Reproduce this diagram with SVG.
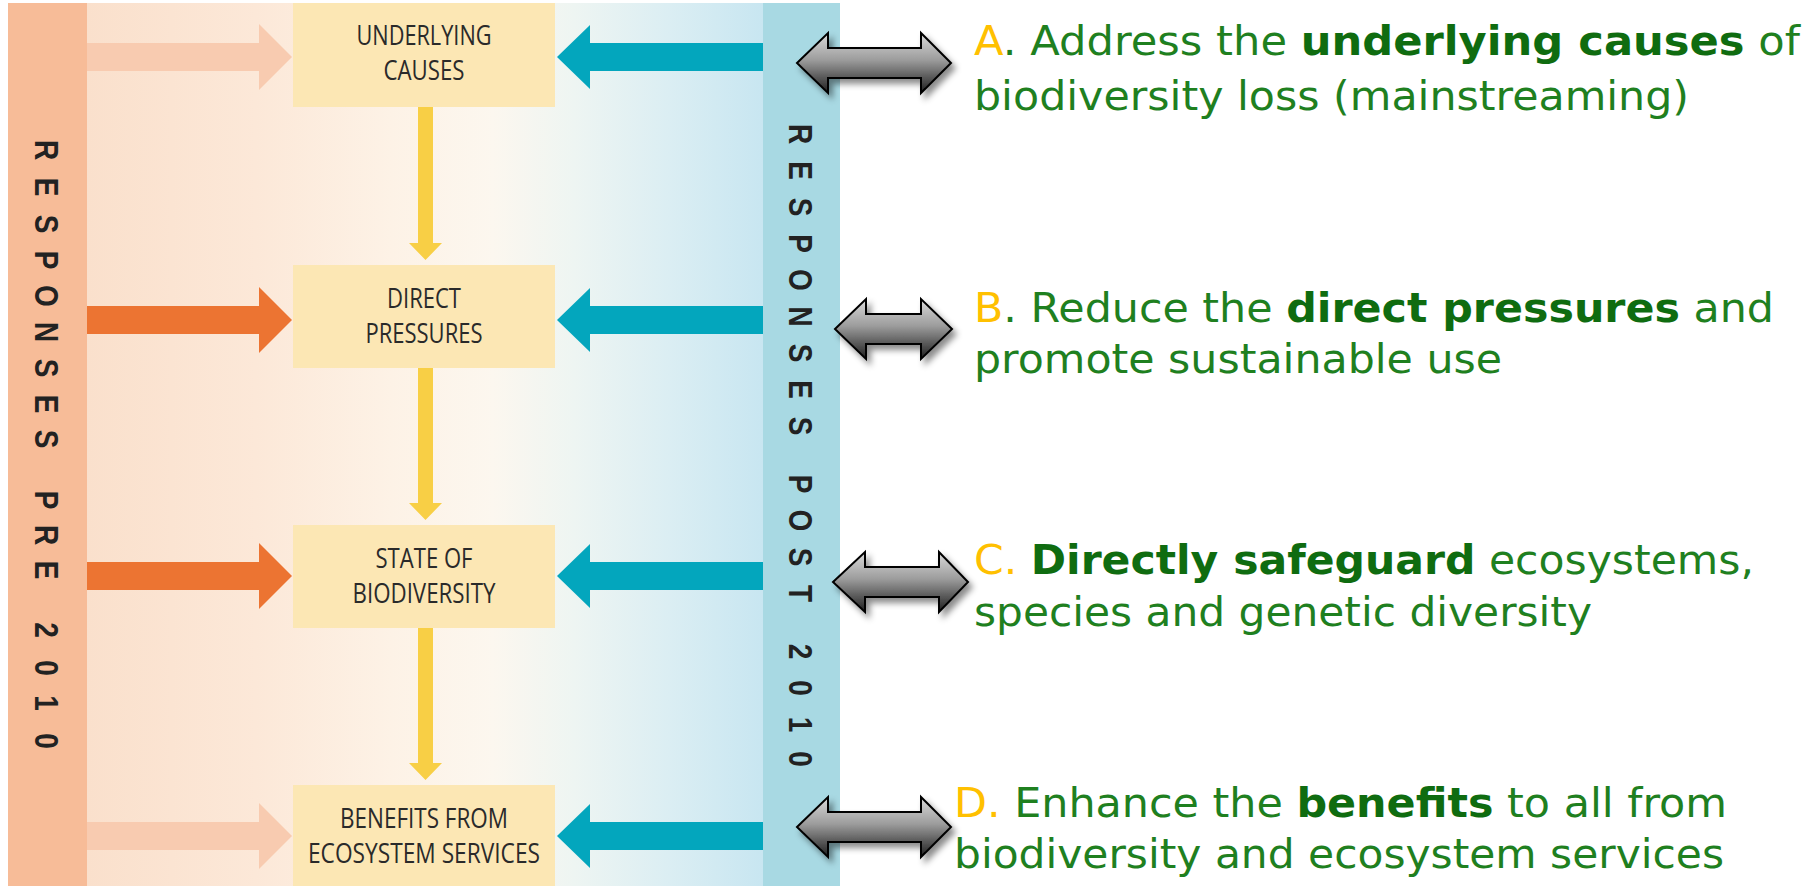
<svg xmlns="http://www.w3.org/2000/svg" width="1820" height="886" viewBox="0 0 1820 886">
<defs>
<linearGradient id="bg" x1="87" y1="0" x2="763" y2="0" gradientUnits="userSpaceOnUse">
<stop offset="0" stop-color="#FAE0CC"/>
<stop offset="0.25" stop-color="#FCE8D8"/>
<stop offset="0.45" stop-color="#FDF2E6"/>
<stop offset="0.6" stop-color="#FCF7EF"/>
<stop offset="0.72" stop-color="#EEF5F2"/>
<stop offset="0.86" stop-color="#DBEEF3"/>
<stop offset="1" stop-color="#C8E6F1"/>
</linearGradient>
<linearGradient id="gray" x1="0" y1="0" x2="0" y2="1">
<stop offset="0" stop-color="#DADADA"/>
<stop offset="0.45" stop-color="#9C9C9C"/>
<stop offset="1" stop-color="#1E1E1E"/>
</linearGradient>
<filter id="shadow" x="-20%" y="-30%" width="140%" height="170%">
<feDropShadow dx="4" dy="5" stdDeviation="3" flood-color="#000" flood-opacity="0.45"/>
</filter>
<style>
.box{fill:#FCE7B4}
.bt{font-family:"Open Sans","Liberation Sans",sans-serif;font-size:27px;fill:#2A2A2A;text-anchor:middle}
.vt{font-family:"Liberation Sans",Arial,sans-serif;font-weight:bold;font-size:28px;fill:#222;text-anchor:middle}
.yl{fill:#F8CF45}
.or{fill:#EC7432}
.orf{fill:#F8CBB0}
.tl{fill:#03A6BD}
.dbl{fill:url(#gray);stroke:#000;stroke-width:2;stroke-linejoin:miter;filter:url(#shadow)}
.rt{font-family:"DejaVu Sans",Verdana,sans-serif;font-size:40px;fill:#1F801F}
.rb{font-weight:bold;fill:#0F6C10}
.lt{fill:#FFC000}
</style>
</defs>

<rect x="0" y="0" width="1820" height="886" fill="#FFFFFF"/>
<rect x="87" y="3" width="676" height="883" fill="url(#bg)"/>

<g id="pre-strip">
<rect x="8" y="3" width="79" height="883" fill="#F7BC98"/>
<text class="vt" transform="matrix(0 1 -1.2 0 35 0)" x="150 187 224 260 296 332 368 404 439 470 500 535 570 600 630 668 703 741" y="0">RESPONSES PRE 2010</text>
</g>

<g id="post-strip">
<rect x="763" y="3" width="77" height="883" fill="#A8D9E3"/>
<text class="vt" transform="matrix(0 1 -1.2 0 789 0)" x="134 170.5 207 243.5 280 316.5 353 389.5 426 455 484 520.5 557 593.5 622 651.5 688 724.5 759" y="0">RESPONSES POST 2010</text>
</g>

<g id="connectors">
<path class="orf" d="M87,43 H259 V24 L292,57 L259,90 V71 H87 Z"/>
<path class="or" d="M87,306 H259 V287 L292,320 L259,353 V334 H87 Z"/>
<path class="or" d="M87,562 H259 V543 L292,576 L259,609 V590 H87 Z"/>
<path class="orf" d="M87,822 H259 V803 L292,836 L259,869 V850 H87 Z"/>
<path class="tl" d="M763,43 H590 V25 L557,57 L590,89 V71 H763 Z"/>
<path class="tl" d="M763,306 H590 V288 L557,320 L590,352 V334 H763 Z"/>
<path class="tl" d="M763,562 H590 V544 L557,576 L590,608 V590 H763 Z"/>
<path class="tl" d="M763,822 H590 V804 L557,836 L590,868 V850 H763 Z"/>
<path class="yl" d="M418,107 H433 V243 H442 L425.5,260 L409,243 H418 Z"/>
<path class="yl" d="M418,368 H433 V503 H442 L425.5,520 L409,503 H418 Z"/>
<path class="yl" d="M418,628 H433 V763 H442 L425.5,780 L409,763 H418 Z"/>
<path class="dbl" d="M797,63 L828,33 V48 H921 V33 L951,63 L921,93 V78 H828 V93 Z"/>
<path class="dbl" d="M835,329 L866,299 V314 H921 V299 L952,329 L921,359 V344 H866 V359 Z"/>
<path class="dbl" d="M833,582 L865,552 V567 H939 V552 L968,582 L939,612 V597 H865 V612 Z"/>
<path class="dbl" d="M797,827 L828,797 V812 H921 V797 L951,827 L921,857 V842 H828 V857 Z"/>
</g>

<g id="node-underlying">
<rect class="box" x="293" y="3" width="262" height="104"/>
<text class="bt" x="424" y="45" textLength="135" lengthAdjust="spacingAndGlyphs">UNDERLYING</text>
<text class="bt" x="424" y="80" textLength="81" lengthAdjust="spacingAndGlyphs">CAUSES</text>
</g>
<g id="node-direct">
<rect class="box" x="293" y="265" width="262" height="103"/>
<text class="bt" x="424" y="308" textLength="74" lengthAdjust="spacingAndGlyphs">DIRECT</text>
<text class="bt" x="424" y="343" textLength="117" lengthAdjust="spacingAndGlyphs">PRESSURES</text>
</g>
<g id="node-state">
<rect class="box" x="293" y="525" width="262" height="103"/>
<text class="bt" x="424" y="568" textLength="97" lengthAdjust="spacingAndGlyphs">STATE OF</text>
<text class="bt" x="424" y="603" textLength="143" lengthAdjust="spacingAndGlyphs">BIODIVERSITY</text>
</g>
<g id="node-benefits">
<rect class="box" x="293" y="785" width="262" height="101"/>
<text class="bt" x="424" y="828" textLength="168" lengthAdjust="spacingAndGlyphs">BENEFITS FROM</text>
<text class="bt" x="424" y="863" textLength="232" lengthAdjust="spacingAndGlyphs">ECOSYSTEM SERVICES</text>
</g>

<g id="text-a">
<text class="rt" x="974" y="55" textLength="826" lengthAdjust="spacingAndGlyphs"><tspan class="lt">A</tspan>. Address the <tspan class="rb">underlying causes</tspan> of</text>
<text class="rt" x="974" y="110" textLength="715" lengthAdjust="spacingAndGlyphs">biodiversity loss (mainstreaming)</text>
</g>
<g id="text-b">
<text class="rt" x="974" y="322" textLength="800" lengthAdjust="spacingAndGlyphs"><tspan class="lt">B</tspan>. Reduce the <tspan class="rb">direct pressures</tspan> and</text>
<text class="rt" x="974" y="373" textLength="528" lengthAdjust="spacingAndGlyphs">promote sustainable use</text>
</g>
<g id="text-c">
<text class="rt" x="974" y="574" textLength="780" lengthAdjust="spacingAndGlyphs"><tspan class="lt">C.</tspan> <tspan class="rb">Directly safeguard</tspan> ecosystems,</text>
<text class="rt" x="974" y="626" textLength="618" lengthAdjust="spacingAndGlyphs">species and genetic diversity</text>
</g>
<g id="text-d">
<text class="rt" x="954" y="817" textLength="773" lengthAdjust="spacingAndGlyphs"><tspan class="lt">D.</tspan> Enhance the <tspan class="rb">benefits</tspan> to all from</text>
<text class="rt" x="954" y="868" textLength="770" lengthAdjust="spacingAndGlyphs">biodiversity and ecosystem services</text>
</g>
</svg>
